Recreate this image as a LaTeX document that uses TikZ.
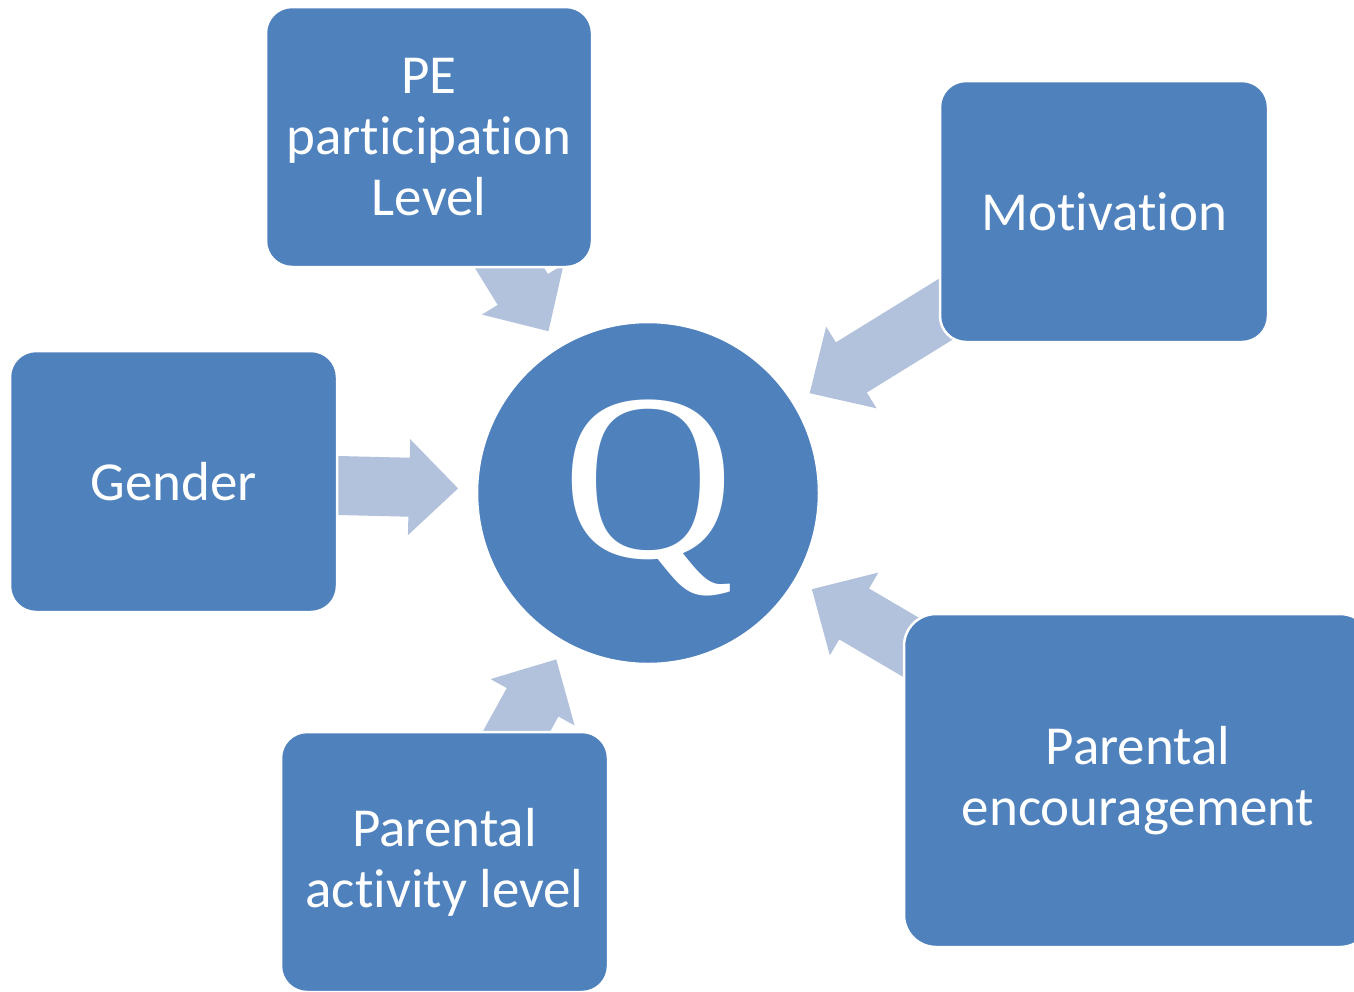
\documentclass[tikz,border=0pt]{standalone}
\usepackage{fontspec}
\setmainfont[Ligatures=NoCommon]{Carlito}
\newfontfamily\qfont{Liberation Serif}
\usetikzlibrary{calc}
\definecolor{boxblue}{HTML}{4F81BD}
\definecolor{arrowblue}{HTML}{B2C1DC}
\pgfdeclarelayer{bg}
\pgfsetlayers{bg,main}
\tikzset{
  boxnode/.style={rectangle, rounded corners=26pt, fill=boxblue, draw=white, line width=2.5pt,
    text=white, align=center, inner sep=0pt, font=\fontsize{55}{61}\selectfont},
  hubnode/.style={circle, fill=boxblue, draw=white, line width=2.5pt, minimum size=342pt, inner sep=0pt},
  arrowshape/.style={fill=arrowblue, draw=none}
}
\newcommand\blockarrow[2]{%
  \fill[arrowshape] ($(#2)!190pt!(#1)$)
    -- ($(#2)!239pt!(#1)!48pt!90:(#1)$)
    -- ($(#2)!239pt!(#1)!29.5pt!90:(#1)$)
    -- ($(#2)!400pt!(#1)!29.5pt!90:(#1)$)
    -- ($(#2)!400pt!(#1)!29.5pt!-90:(#1)$)
    -- ($(#2)!239pt!(#1)!29.5pt!-90:(#1)$)
    -- ($(#2)!239pt!(#1)!48pt!-90:(#1)$)
    -- cycle;}
\begin{document}
\begin{tikzpicture}[x=1pt,y=-1pt]
\useasboundingbox (0,0) rectangle (1354,991);
\clip (0,0) rectangle (1354,991);
\node[hubnode] (hub) at (648,493) {};
\node[anchor=base, inner sep=0pt, text=white, font=\qfont\fontsize{238}{238}\selectfont] (q) at (648,557) {Q};
\node[boxnode, minimum width=326pt, minimum height=260pt] (pe) at (429,137) {PE\\participation\\Level};
\node[boxnode, minimum width=328pt, minimum height=261pt] (mot) at (1104,211.5) {Motivation};
\node[boxnode, minimum width=327pt, minimum height=261pt] (gen) at (173.5,481.5) {Gender};
\node[boxnode, minimum width=327pt, minimum height=260pt] (act) at (444.5,862) {Parental\\activity level};
\node[boxnode, rounded corners=32pt, minimum width=468pt, minimum height=333pt] (enc) at (1138,780.5) {Parental\\encouragement};
\begin{pgfonlayer}{bg}
\blockarrow{pe.center}{hub.center}
\blockarrow{mot.center}{hub.center}
\blockarrow{gen.center}{hub.center}
\blockarrow{act.center}{hub.center}
\blockarrow{enc.center}{hub.center}
\end{pgfonlayer}
\end{tikzpicture}
\end{document}
